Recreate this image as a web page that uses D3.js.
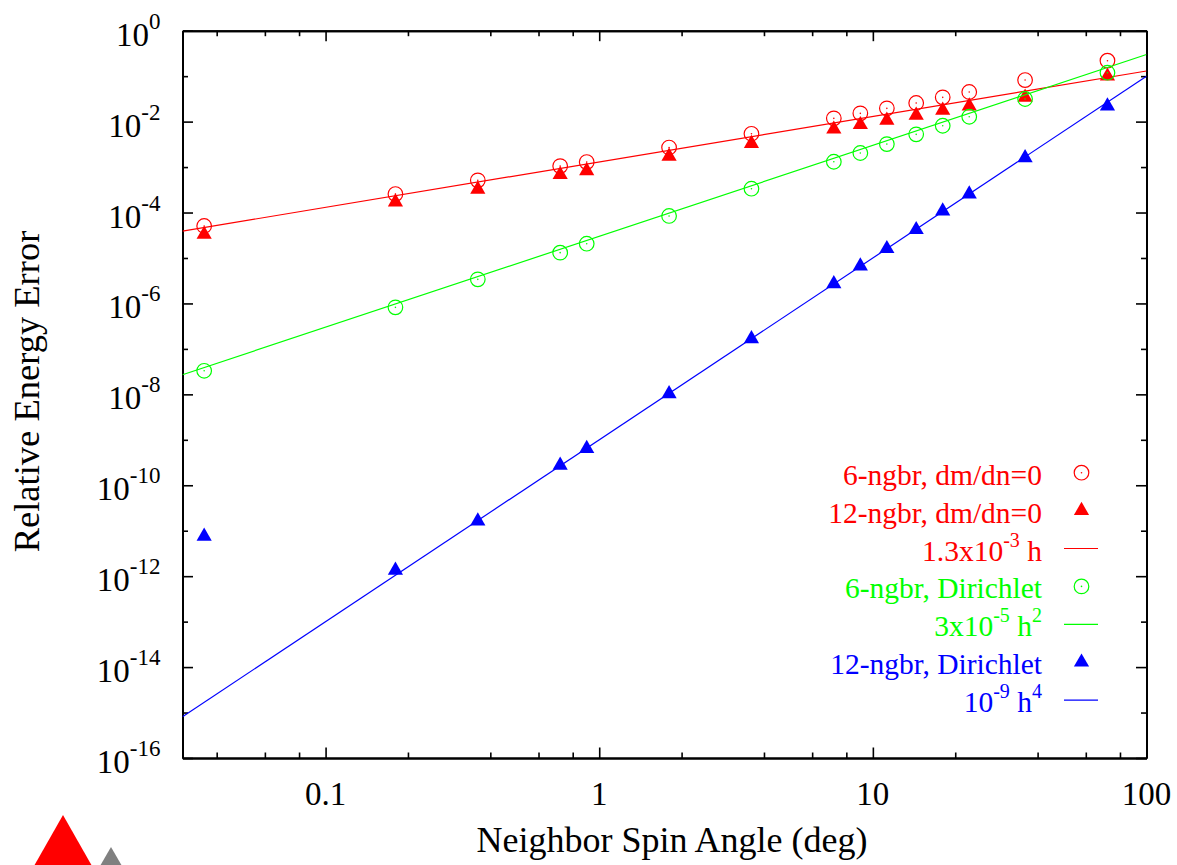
<!DOCTYPE html>
<html><head><meta charset="utf-8">
<script src="https://cdn.jsdelivr.net/npm/d3@7"></script>
<style>body{margin:0;background:#fff}svg{display:block;font-family:"Liberation Serif","Times New Roman",serif}</style>
</head><body><svg id="c" width="1177" height="865"></svg>
<script>
// ---- data ----
const angles = [0.036,0.18,0.36,0.72,0.9,1.8,3.6,7.2,9,11.25,14.4,18,22.5,36,72];
const ngbr6Neumann  = [5.05e-5,2.55e-4,5.1e-4,1.05e-3,1.29e-3,2.69e-3,5.4e-3,1.18e-2,1.52e-2,1.96e-2,2.57e-2,3.42e-2,4.48e-2,8.2e-2,0.219];
const ngbr12Neumann = [3.3e-5,1.7e-4,3.24e-4,6.8e-4,8.3e-4,1.73e-3,3.3e-3,6.8e-3,8.55e-3,1.07e-2,1.38e-2,1.77e-2,2.2e-2,3.42e-2,0.10];
const ngbr6Dirichlet = [3.3e-8,8.2e-7,3.39e-6,1.31e-5,2.06e-5,8.4e-5,3.34e-4,1.31e-3,2.04e-3,3.2e-3,5.25e-3,8.1e-3,1.28e-2,3.14e-2,0.119];
const ngbr12Dirichlet = [7.5e-12,1.34e-12,1.63e-11,2.74e-10,6.4e-10,1.03e-8,1.67e-7,2.71e-6,6.65e-6,1.6e-5,4.2e-5,1.08e-4,2.55e-4,1.6e-3,2.2e-2];
const fitCoef  = [1.3e-3, 3e-5, 1e-9];
const fitPower = [1, 2, 4];
const fitRange = [0.03, 100];
const xMajorTicks = [0.1, 1, 10, 100];
const xMajorLabels = ["0.1", "1", "10", "100"];
const xMinorTicks = [0.04,0.06,0.08,0.2,0.4,0.6,0.8,2,4,6,8,20,40,60,80];
const yMajorTicks = [1,1e-2,1e-4,1e-6,1e-8,1e-10,1e-12,1e-14,1e-16];
const yMajorExp = ["0","-2","-4","-6","-8","-10","-12","-14","-16"];
const yMinorTicks = [1e-1,1e-3,1e-5,1e-7,1e-9,1e-11,1e-13,1e-15];
const legendLabels = [
  [["6-ngbr, dm/dn=0"]],
  [["12-ngbr, dm/dn=0"]],
  [["1.3x10"],["-3",1],["\u00a0h"]],
  [["6-ngbr, Dirichlet"]],
  [["3x10"],["-5",1],["\u00a0h"],["2",1]],
  [["12-ngbr, Dirichlet"]],
  [["10"],["-9",1],["\u00a0h"],["4",1]]
];
const RED="#ff0000", GREEN="#00ff00", BLUE="#0000ff";

// ---- layout ----
const L=182.5, R=1146.5, T=30.7, B=758;
const svg = d3.select("#c");
const x = d3.scaleLog().domain([0.03,100]).range([L,R]);
const y = d3.scaleLog().domain([1e-16,1]).range([B,T]);

function styleAxis(g){
  g.select(".domain").attr("stroke","#000").attr("stroke-width",2);
  g.selectAll(".tick line").attr("stroke","#000").attr("stroke-width",1.6);
  g.selectAll(".tick text").remove();
}
const MAJ=-10.5, MIN=-5.5;
svg.append("g").attr("transform",`translate(0,${B})`).call(d3.axisBottom(x).tickValues(xMajorTicks).tickSize(MAJ).tickSizeOuter(0).tickFormat("")).call(styleAxis);
svg.append("g").attr("transform",`translate(0,${B})`).call(d3.axisBottom(x).tickValues(xMinorTicks).tickSize(MIN).tickSizeOuter(0).tickFormat("")).call(styleAxis);
svg.append("g").attr("transform",`translate(0,${T})`).call(d3.axisTop(x).tickValues(xMajorTicks).tickSize(MAJ).tickSizeOuter(0).tickFormat("")).call(styleAxis);
svg.append("g").attr("transform",`translate(0,${T})`).call(d3.axisTop(x).tickValues(xMinorTicks).tickSize(MIN).tickSizeOuter(0).tickFormat("")).call(styleAxis);
svg.append("g").attr("transform",`translate(${L},0)`).call(d3.axisLeft(y).tickValues(yMajorTicks).tickSize(MAJ).tickSizeOuter(0).tickFormat("")).call(styleAxis);
svg.append("g").attr("transform",`translate(${L},0)`).call(d3.axisLeft(y).tickValues(yMinorTicks).tickSize(MIN).tickSizeOuter(0).tickFormat("")).call(styleAxis);
svg.append("g").attr("transform",`translate(${R},0)`).call(d3.axisRight(y).tickValues(yMajorTicks).tickSize(MAJ).tickSizeOuter(0).tickFormat("")).call(styleAxis);
svg.append("g").attr("transform",`translate(${R},0)`).call(d3.axisRight(y).tickValues(yMinorTicks).tickSize(MIN).tickSizeOuter(0).tickFormat("")).call(styleAxis);

// tick labels
svg.append("g").selectAll("text").data(xMajorTicks).join("text")
  .attr("x",d=>x(d)).attr("y",B+47).attr("text-anchor","middle")
  .attr("font-size",33).text((d,i)=>xMajorLabels[i]);
const yl = svg.append("g").selectAll("text").data(yMajorTicks).join("text")
  .attr("x",L-22).attr("y",d=>y(d)+15).attr("text-anchor","end").attr("font-size",33);
yl.append("tspan").text("10");
yl.append("tspan").attr("dy",-17).attr("font-size",23).text((d,i)=>yMajorExp[i]);

// titles
svg.append("text").attr("x",672).attr("y",851.5).attr("text-anchor","middle").attr("font-size",36).text("Neighbor Spin Angle (deg)");
svg.append("text").attr("transform","translate(38.5,391.5) rotate(-90)").attr("text-anchor","middle").attr("font-size",36.5).text("Relative Energy Error");

// clip
svg.append("clipPath").attr("id","clip").append("rect").attr("x",L).attr("y",T).attr("width",R-L).attr("height",B-T);
const plot = svg.append("g").attr("clip-path","url(#clip)");

const line = d3.line().x(d=>x(d[0])).y(d=>y(d[1]));
function fitPts(i){ return fitRange.map(h=>[h, fitCoef[i]*Math.pow(h,fitPower[i])]); }
const tri = d3.symbol(d3.symbolTriangle, 100);

function circles(vals,color){
  const g = plot.append("g");
  const pts = angles.map((a,i)=>[a,vals[i]]);
  g.selectAll("circle.o").data(pts).join("circle").attr("class","o")
    .attr("cx",d=>x(d[0])).attr("cy",d=>y(d[1])).attr("r",7.3)
    .attr("fill","none").attr("stroke",color).attr("stroke-width",1.2);
  g.selectAll("circle.c").data(pts).join("circle").attr("class","c")
    .attr("cx",d=>x(d[0])).attr("cy",d=>y(d[1])).attr("r",0.8).attr("fill",color);
}
function triangles(vals,color){
  const pts = angles.map((a,i)=>[a,vals[i]]);
  plot.append("g").selectAll("path").data(pts).join("path")
    .attr("d",tri).attr("transform",d=>`translate(${x(d[0])},${y(d[1])})`).attr("fill",color);
}
function fitLine(i,color){
  plot.append("path").datum(fitPts(i)).attr("d",line).attr("fill","none").attr("stroke",color).attr("stroke-width",1.2);
}
circles(ngbr6Neumann,RED);
triangles(ngbr12Neumann,RED);
fitLine(0,RED);
circles(ngbr6Dirichlet,GREEN);
fitLine(1,GREEN);
triangles(ngbr12Dirichlet,BLUE);
fitLine(2,BLUE);

// legend
const legColors=[RED,RED,RED,GREEN,GREEN,BLUE,BLUE];
const legKinds=["c","t","l","c","l","t","l"];
const lg = svg.append("g");
legendLabels.forEach((segs,i)=>{
  const cy = 472.7 + i*37.9;
  const t = lg.append("text").attr("x",1042).attr("y",cy+12).attr("text-anchor","end")
    .attr("font-size",29.5).attr("fill",legColors[i]);
  let up=false;
  segs.forEach(s=>{
    const ts=t.append("tspan").text(s[0]);
    if(s[1]&&!up){ts.attr("dy",-14).attr("font-size",20);up=true;}
    else if(!s[1]&&up){ts.attr("dy",14);up=false;}
    else if(s[1]) ts.attr("font-size",20);
  });
  const sx=1081.5;
  if(legKinds[i]==="c"){
    lg.append("circle").attr("cx",sx).attr("cy",cy).attr("r",7.3).attr("fill","none").attr("stroke",legColors[i]).attr("stroke-width",1.2);
    lg.append("circle").attr("cx",sx).attr("cy",cy).attr("r",0.8).attr("fill",legColors[i]);
  } else if(legKinds[i]==="t"){
    lg.append("path").attr("d",tri).attr("transform",`translate(${sx},${cy})`).attr("fill",legColors[i]);
  } else {
    lg.append("line").attr("x1",1064).attr("x2",1098).attr("y1",cy).attr("y2",cy).attr("stroke",legColors[i]).attr("stroke-width",1.2);
  }
});

// logo (decorative)
svg.append("path").attr("d","M63,815 L34,866 L92,866 Z").attr("fill","#ff0000");
svg.append("path").attr("d","M111,847 L100,866 L122,866 Z").attr("fill","#808080");
</script></body></html>
